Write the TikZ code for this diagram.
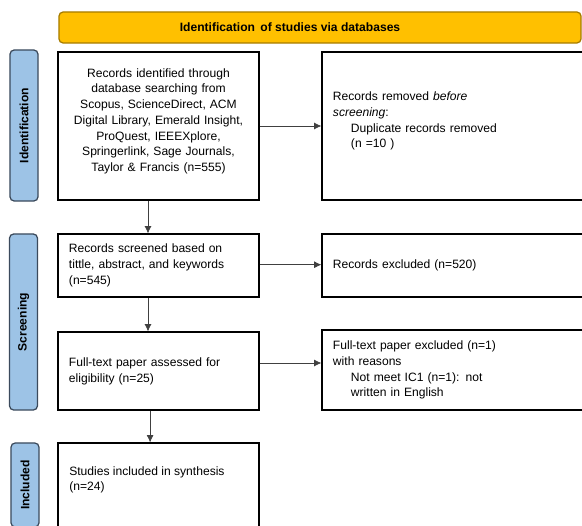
\documentclass[tikz,border=0pt]{standalone}
\usepackage{fontspec}
\setmainfont{Liberation Sans}
\usetikzlibrary{positioning,arrows.meta,shapes,calc}
\definecolor{bannerfill}{HTML}{FFC000}
\definecolor{bannerline}{HTML}{A67C00}
\definecolor{stagefill}{HTML}{9DC3E6}
\definecolor{stageline}{HTML}{3B4A5C}

\begin{document}
\begin{tikzpicture}[x=0.025cm,y=-0.025cm,
  every node/.style={font=\fontsize{8.6}{11.2}\selectfont},
  box/.style={draw,line width=0.8pt,inner sep=0pt,inner xsep=0.275cm},
  stage/.style={draw=stageline,fill=stagefill,line width=0.9pt,rounded corners=3pt,rotate=90,minimum height=0.7cm,font=\fontsize{8.6}{11.2}\selectfont\bfseries},
  flow/.style={-{Latex[length=1.8mm,width=1.7mm]},line width=0.5pt,draw=black!75}]

\useasboundingbox (0,0) rectangle (582,525);
\clip (0,0) rectangle (582,525);

\node[draw=bannerline,fill=bannerfill,line width=0.9pt,rounded corners=3pt,minimum width=13.05cm,minimum height=0.775cm] (banner) at (320,27.5) {};
\node[font=\fontsize{8.6}{11.2}\selectfont\bfseries] (title) at (290,27.5) {Identification\, of studies via databases};

\node[stage,minimum width=3.775cm] (idbar) at (24,125.5) {Identification};
\node[stage,minimum width=4.4cm] (scrbar) at (23.5,322) {Screening};
\node[stage,minimum width=2.1cm] (incbar) at (25,485) {Included};

\node[box,text width=4.475cm,minimum height=3.7cm,align=center] (idbox) at (158.5,126) {Records identified through\\database searching from\\Scopus, ScienceDirect, ACM\\Digital Library, Emerald Insight,\\ProQuest, IEEEXplore,\\Springerlink, Sage Journals,\\Taylor \& Francis (n=555)\\[-2.6pt]\mbox{}};
\node[box,text width=4.475cm,minimum height=1.575cm,align=left] (scrbox) at (158.5,265.5) {Records screened based on\\tittle, abstract, and keywords\\(n=545)};
\node[box,text width=4.475cm,minimum height=1.95cm,align=left] (elgbox) at (158.5,371) {Full-text paper assessed for\\eligibility (n=25)};
\node[box,text width=4.475cm,minimum height=2.925cm] (incbox) at (158.5,501.5) {};
\node[anchor=north west,align=left,inner sep=0pt] (inctext) at (69,466) {Studies included in synthesis\\(n=24)};

\node[box,text width=6.4cm,minimum height=3.7cm,align=left] (rembox) at (461,126) {Records removed \emph{before}\\\emph{screening}:\\\hspace*{0.45cm}Duplicate records removed\\\hspace*{0.45cm}(n =10 )\\[-2.6pt]\mbox{}};
\node[box,text width=6.4cm,minimum height=1.575cm,align=left] (excbox) at (461,265.5) {Records excluded (n=520)};
\node[box,text width=6.4cm,minimum height=2cm,align=left] (ftbox) at (461,370) {Full-text paper excluded (n=1)\\with reasons\\\hspace*{0.45cm}Not meet IC1 (n=1): not\\\hspace*{0.45cm}written in English};

\draw[flow] ([xshift=-0.2625cm]idbox.south) -- ([xshift=-0.2625cm]scrbox.north);
\draw[flow] ([xshift=-0.2625cm]scrbox.south) -- ([xshift=-0.2625cm]elgbox.north);
\draw[flow] ([xshift=-0.21cm]elgbox.south) -- ([xshift=-0.21cm]incbox.north);
\draw[flow] (idbox.east) -- (rembox.west);
\draw[flow] ([yshift=0.02cm]scrbox.east) -- ([yshift=0.02cm]scrbox.east -| excbox.west);
\draw[flow] ([yshift=0.2cm]elgbox.east) -- ([yshift=0.2cm]elgbox.east -| ftbox.west);

\end{tikzpicture}
\end{document}
